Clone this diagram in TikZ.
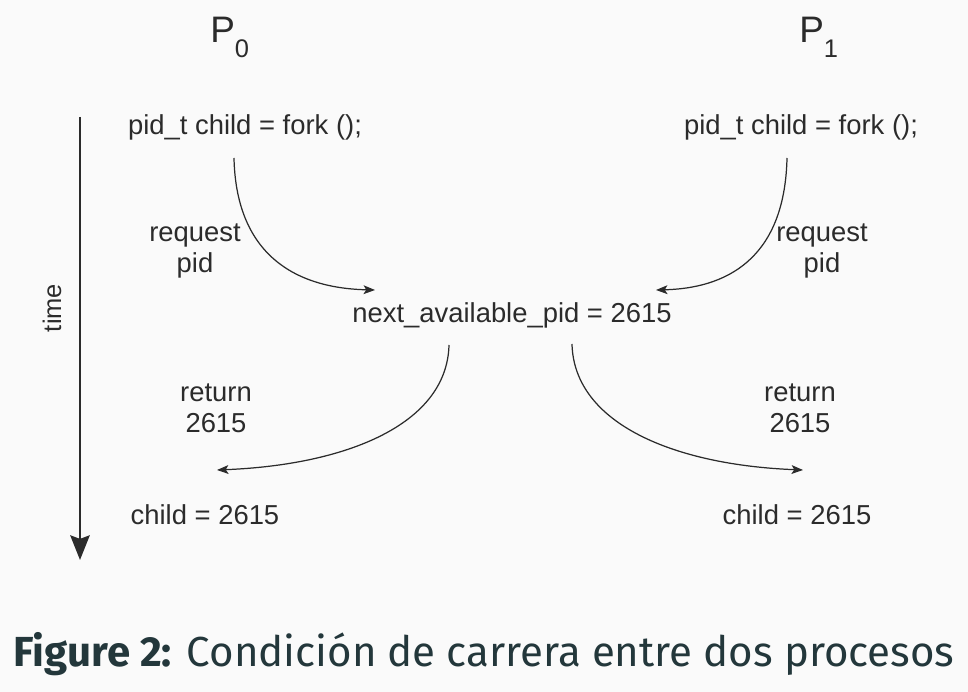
\documentclass[tikz,border=0pt]{standalone}
\usepackage{fontspec}
\setmainfont{Liberation Sans}
\newfontfamily\capfont{Fira Sans}
\usetikzlibrary{arrows.meta}
\definecolor{paper}{HTML}{FAFAFA}
\definecolor{ink}{HTML}{2B2B2B}
\definecolor{capink}{HTML}{23373B}

\begin{document}
\begin{tikzpicture}[
  x=0.02cm, y=-0.02cm,   % one unit = one pixel of the 968 x 692 page, y downwards
  line join=round,
  txt/.style={font=\fontsize{15.6}{18}\selectfont, text=ink, inner sep=0pt, align=center},
  proc/.style={font=\fontsize{21}{21}\selectfont, text=ink, inner sep=0pt},
  flow/.style={draw=ink, line width=0.7pt, -{Stealth[length=6.5pt,width=5pt,inset=1.5pt]}},
  timeline/.style={draw=ink, line width=1.5pt, -{Stealth[length=14pt,width=11pt,inset=2pt]}},
  figcap/.style={font=\capfont\fontsize{23.9}{28}\selectfont, text=capink, inner sep=0pt},
]
% --- page
\fill[paper] (0,0) rectangle (968,692);
\useasboundingbox (0,0) rectangle (968,692);

% --- processes
\node[proc, anchor=base west] (p0) at (210,43) {P\raisebox{-8.5pt}{\fontsize{14.5}{14.5}\selectfont 0}};
\node[proc, anchor=base west] (p1) at (799,43) {P\raisebox{-8.5pt}{\fontsize{14.5}{14.5}\selectfont 1}};

% --- time axis
\coordinate (t0) at (80,117);
\coordinate (t1) at (80,560);
\draw[timeline] (t0) -- (t1);
\node[txt, rotate=90, font=\fontsize{14.5}{14.5}\selectfont] (time) at (52,308) {time};

% --- code and shared variable
\node[txt, anchor=base] (fork0) at (245,135) {pid\_t child = fork ();};
\node[txt, anchor=base] (fork1) at (801,135) {pid\_t child = fork ();};
\node[txt, anchor=base] (next) at (512,323) {next\_available\_pid = 2615};
\node[txt, anchor=base] (child0) at (205,525) {child = 2615};
\node[txt, anchor=base] (child1) at (797,525) {child = 2615};

% --- arrow labels (base = last line)
\node[txt, anchor=base] (req0txt) at (195,273) {request\\pid};
\node[txt, anchor=base] (req1txt) at (822,273) {request\\pid};
\node[txt, anchor=base] (ret0txt) at (216,433) {return\\2615};
\node[txt, anchor=base] (ret1txt) at (800,433) {return\\2615};

% --- request / return arrows
\coordinate (req0) at (234,158);  \coordinate (got0) at (375,290);
\coordinate (req1) at (787,158);  \coordinate (got1) at (656,290);
\coordinate (ret0) at (449,345);  \coordinate (back0) at (217,470);
\coordinate (ret1) at (572,344);  \coordinate (back1) at (803,470);
\draw[flow] (req0) .. controls (236,250) and (290,288) .. (got0);
\draw[flow] (req1) .. controls (785,250) and (736,288) .. (got1);
\draw[flow] (ret0) .. controls (447,425) and (345,465) .. (back0);
\draw[flow] (ret1) .. controls (574,424) and (675,465) .. (back1);

% --- caption
\node[figcap, anchor=base] (caption) at (484,667) {\textbf{Figure 2:} Condición de carrera entre dos procesos};
\end{tikzpicture}
\end{document}
